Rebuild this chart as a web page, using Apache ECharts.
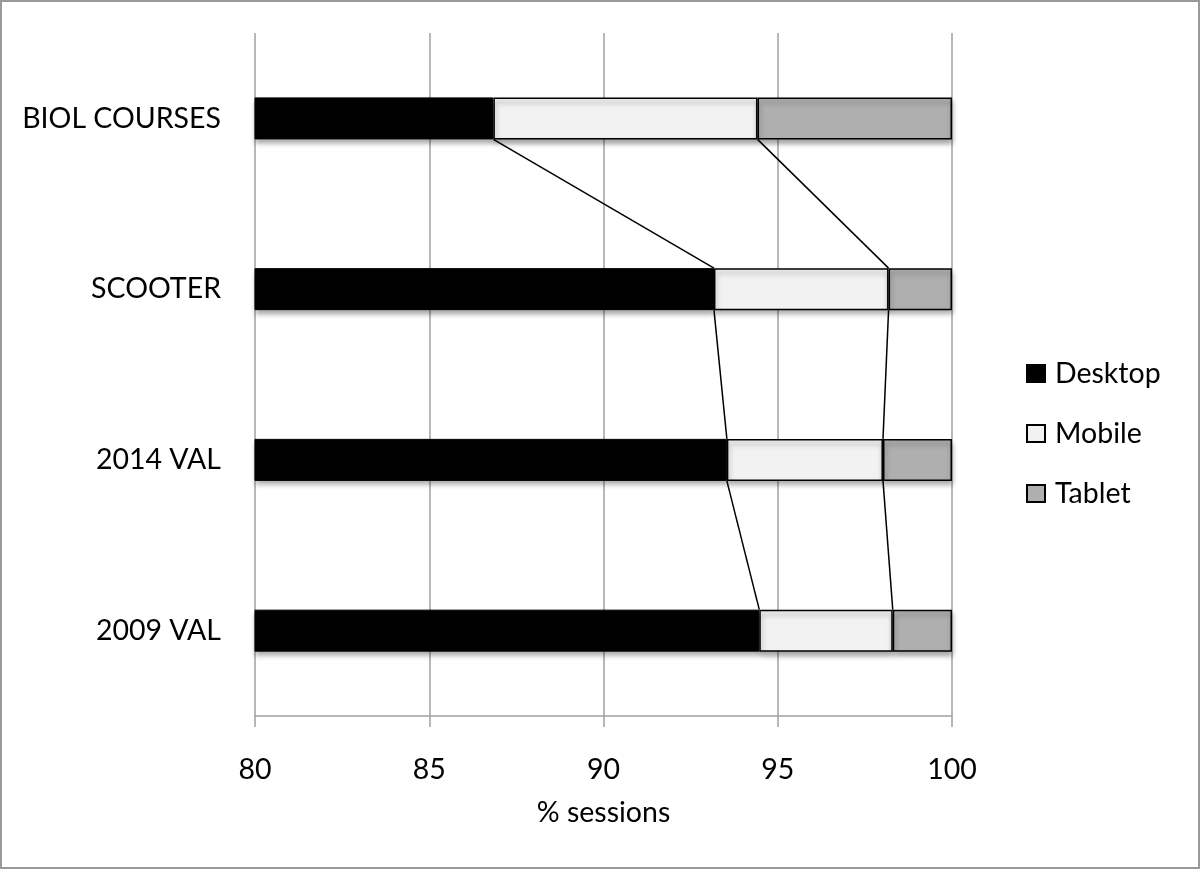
<!DOCTYPE html>
<html>
<head>
<meta charset="utf-8">
<script src="https://cdn.jsdelivr.net/npm/echarts@6/dist/echarts.min.js"></script>
<style>
html,body{margin:0;padding:0;background:#fff;}
#wrap{position:relative;width:1200px;height:869px;}
#chart{width:1200px;height:869px;}
#frame{position:absolute;left:0;top:0;right:0;bottom:0;border:2px solid #9a9a9a;pointer-events:none;}
</style>
</head>
<body>
<div id="wrap"><div id="chart"></div><div id="frame"></div></div>
<script>
const categories = ['BIOL COURSES', 'SCOOTER', '2014 VAL', '2009 VAL'];
const desktop = [86.84, 93.17, 93.54, 94.47];
const mobile = [7.58, 5.01, 4.48, 3.83];
const tablet = [5.58, 1.82, 1.98, 1.70];
const xTicks = [80, 85, 90, 95, 100];

const FONT = 'Lato';
const FS = 28.5;
const BAR_W = 42;

const desktopEnd = desktop.slice();
const mobileEnd = desktop.map((d, i) => d + mobile[i]);
const connectorData = [];
for (let i = 0; i < categories.length - 1; i++) {
  connectorData.push([i, desktopEnd[i], desktopEnd[i + 1]]);
  connectorData.push([i, mobileEnd[i], mobileEnd[i + 1]]);
}

const chart = echarts.init(document.getElementById('chart'), null, {renderer: 'canvas'});
const shadow = {shadowColor: 'rgba(0,0,0,0.35)', shadowBlur: 5, shadowOffsetX: 1, shadowOffsetY: 4};

chart.setOption({
  animation: false,
  backgroundColor: '#fff',
  textStyle: {fontFamily: FONT, color: '#000'},
  grid: {left: 255, right: 248, top: 33, bottom: 153, containLabel: false},
  legend: {
    orient: 'vertical',
    left: 1021, top: 354,
    icon: 'rect',
    itemWidth: 18, itemHeight: 17, itemGap: 31,
    data: ['Desktop', 'Mobile', 'Tablet'],
    textStyle: {fontFamily: FONT, fontSize: FS, color: '#000', padding: [0, 0, 0, 5]}
  },
  xAxis: {
    type: 'value', min: 80, max: 100, interval: 5,
    axisLine: {show: true, lineStyle: {color: '#a0a0a0', width: 1.5}},
    axisTick: {show: true, length: 11, lineStyle: {color: '#a0a0a0', width: 1.5}},
    splitLine: {show: true, lineStyle: {color: '#a0a0a0', width: 1.5}},
    axisLabel: {fontFamily: FONT, fontSize: FS, color: '#000', margin: 39,
      formatter: v => xTicks.includes(v) ? String(v) : ''},
    name: '% sessions', nameLocation: 'middle', nameGap: 82,
    nameTextStyle: {fontFamily: FONT, fontSize: FS, color: '#000'}
  },
  yAxis: {
    type: 'category', data: categories, inverse: true,
    axisLine: {show: false}, axisTick: {show: false},
    axisLabel: {fontFamily: FONT, fontSize: FS, color: '#000', margin: 34}
  },
  series: [
    {name: 'Desktop', type: 'bar', stack: 's', barWidth: BAR_W, data: desktop,
      itemStyle: Object.assign({color: '#000', borderColor: '#000', borderWidth: 1}, shadow)},
    {name: 'Mobile', type: 'bar', stack: 's', barWidth: BAR_W, data: mobile,
      itemStyle: Object.assign({color: '#f2f2f2', borderColor: '#000', borderWidth: 1.5}, shadow)},
    {name: 'Tablet', type: 'bar', stack: 's', barWidth: BAR_W, data: tablet,
      itemStyle: Object.assign({color: '#afafaf', borderColor: '#000', borderWidth: 1.5}, shadow)},
    {name: 'connector', type: 'custom', data: connectorData, z: 5, silent: true,
      encode: {x: [1, 2], y: 0},
      renderItem: function (params, api) {
        const i = api.value(0);
        const p1 = api.coord([api.value(1), i]);
        const p2 = api.coord([api.value(2), i + 1]);
        const h = BAR_W / 2;
        return {
          type: 'line',
          shape: {x1: p1[0], y1: p1[1] + h, x2: p2[0], y2: p2[1] - h},
          style: {stroke: '#000', lineWidth: 1.5}
        };
      }}
  ]
});
</script>
</body>
</html>
